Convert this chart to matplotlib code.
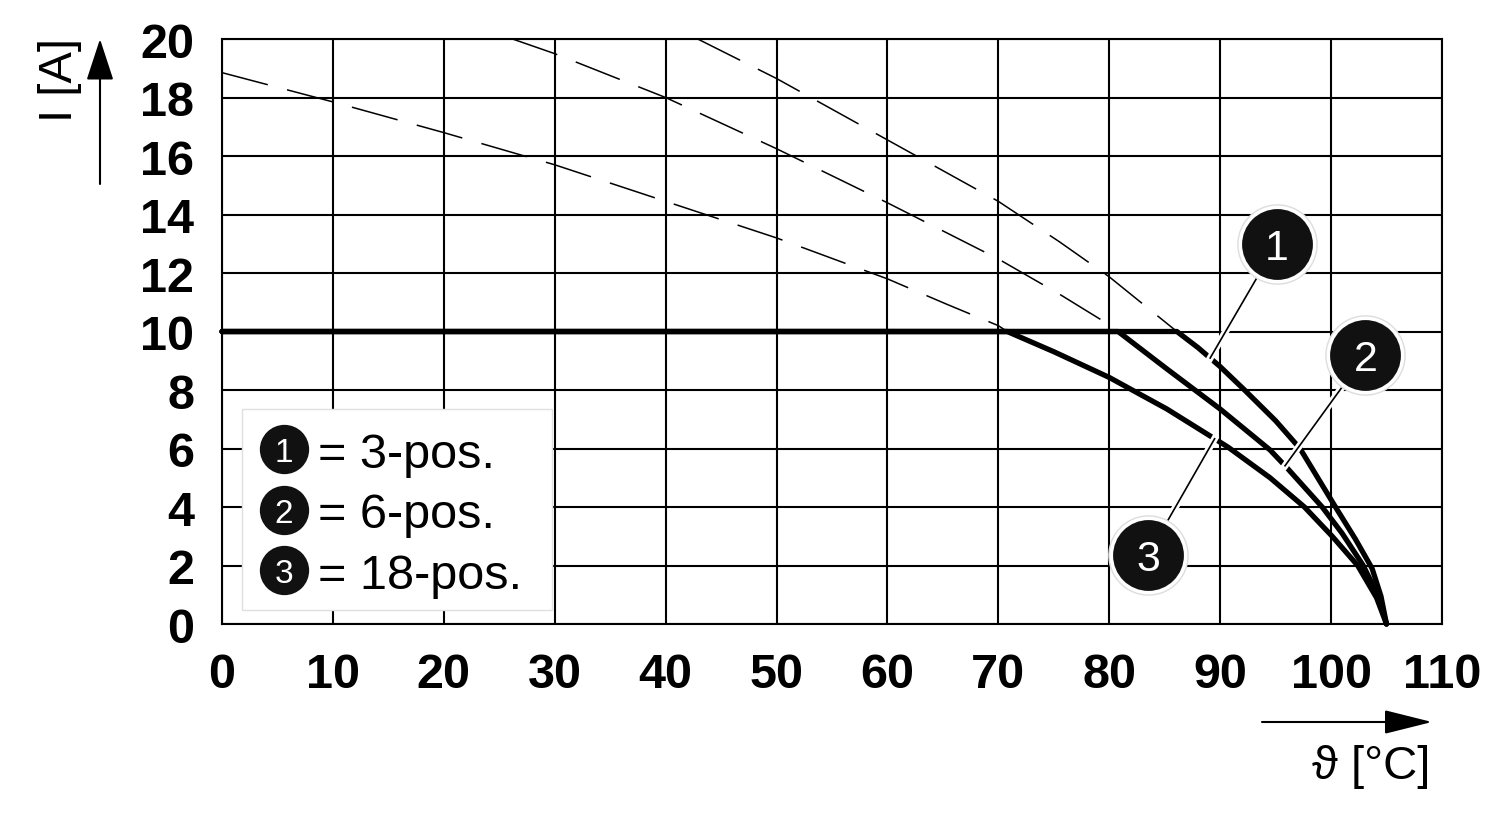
import matplotlib
matplotlib.use("Agg")
import matplotlib.pyplot as plt
import matplotlib.patheffects as pe
from matplotlib.patches import Rectangle
import numpy as np

plt.rcParams['font.family'] = ['Liberation Sans', 'DejaVu Sans']

# derating curves (temperature in degC, current in A)
temp_3pos = [42.9, 50, 60, 70, 75.5, 80, 86.1, 88, 90, 92.2, 95, 97.2, 100.4, 102.2, 103.7, 104.5, 105]
curr_3pos = [20.0, 18.65, 16.55, 14.45, 13.07, 11.87, 10.0, 9.45, 8.8, 8.0, 6.95, 6.0, 4.0, 2.9, 1.9, 0.95, 0.0]

temp_6pos = [26.2, 30, 40, 50, 60, 70, 75.5, 80, 80.8, 85.2, 90, 94.5, 96, 99.2, 101, 102.9, 104.2, 105]
curr_6pos = [20.0, 19.5, 18.0, 16.25, 14.4, 12.48, 11.28, 10.23, 10.0, 8.72, 7.35, 5.95, 5.35, 4.0, 3.1, 2.0, 1.0, 0.0]

temp_18pos = [0, 10, 20, 30, 40, 50, 60, 65.3, 70, 70.8, 75, 80, 85.2, 90.7, 94.5, 97.6, 100.1, 102.4, 104.1, 105]
curr_18pos = [18.85, 17.85, 16.8, 15.7, 14.45, 13.2, 11.8, 10.94, 10.2, 10.0, 9.31, 8.43, 7.35, 6.05, 5.0, 4.0, 3.0, 2.0, 0.9, 0.0]

current_limit = 10
curve_ids = ['1', '2', '3']
legend_text = ['= 3-pos.', '= 6-pos.', '= 18-pos.']
x_ticks = list(range(0, 111, 10))
y_ticks = list(range(0, 21, 2))

curves = [(temp_3pos, curr_3pos), (temp_6pos, curr_6pos), (temp_18pos, curr_18pos)]

fig = plt.figure(figsize=(15, 8.2), dpi=100)
ax = fig.add_axes([0.148, 0.2378, 0.8133, 0.7134])
ax.set_xlim(0, 110)
ax.set_ylim(0, 20)
ax.set_xticks(x_ticks)
ax.set_yticks(y_ticks)
ax.grid(True, color='black', lw=1.5)
ax.set_axisbelow(True)
for s in ax.spines.values():
    s.set_linewidth(1.5)
ax.tick_params(length=0, labelsize=35, pad=20)
for lab in ax.get_xticklabels() + ax.get_yticklabels():
    lab.set_fontweight('bold')

for t, c in curves:
    t = np.array(t, dtype=float)
    c = np.array(c, dtype=float)
    # where the curve drops below the current limit
    t_cross = np.interp(current_limit, c[::-1], t[::-1])
    above = c > current_limit
    below = c < current_limit
    # dashed part above the limit
    ax.plot(np.r_[t[above], t_cross], np.r_[c[above], current_limit],
            color='black', lw=1.1, dashes=(31, 13), zorder=3)
    # solid part: flat at the limit, then the derating curve
    ax.plot(np.r_[0, t_cross, t[below]], np.r_[current_limit, current_limit, c[below]],
            color='black', lw=3.8, solid_capstyle='round', solid_joinstyle='round',
            zorder=4, clip_on=False)

# numbered callouts: circle position and where the leader meets the curve
callout_pos = [(95.1, 13.0), (103.1, 9.2), (83.5, 2.36)]
leader_x = [89.1, 95.85, 89.5]
for i, (t, c) in enumerate(curves):
    cx, cy = callout_pos[i]
    tx = leader_x[i]
    ty = np.interp(tx, t, c)
    ax.plot([cx, tx], [cy, ty], color='black', lw=1.2, zorder=5,
            path_effects=[pe.withStroke(linewidth=5, foreground='white')])
    ax.plot(cx, cy, 'o', ms=57, mfc='white', mec='#dddddd', mew=1, zorder=6, clip_on=False)
    ax.plot(cx, cy, 'o', ms=51, mfc='#111111', mec='#111111', mew=0, zorder=7, clip_on=False)
    ax.text(cx, cy, curve_ids[i], color='white', fontsize=31, ha='center', va='center_baseline',
            zorder=8)

# legend box
ax.add_patch(Rectangle((0.0164, 0.024), 0.2541, 0.3435, transform=ax.transAxes,
                       facecolor='white', edgecolor='#e0e0e0', lw=1, zorder=5))
row_y = [0.299, 0.195, 0.092]
for i in range(3):
    ax.plot(0.0508, row_y[i], 'o', ms=35.5, mfc='#111111', mec='#111111', mew=0,
            transform=ax.transAxes, zorder=6)
    ax.text(0.0508, row_y[i], curve_ids[i], color='white', fontsize=24, ha='center',
            va='center_baseline', transform=ax.transAxes, zorder=7)
    ax.text(0.079, row_y[i], legend_text[i], color='black', fontsize=35, ha='left',
            va='center_baseline', transform=ax.transAxes, zorder=7)

# axis titles with arrows
fig.text(60 / 1500, 1 - 80 / 820, 'I [A]', rotation=90, fontsize=34, ha='center', va='center')
ax.annotate('', xy=(100, 780), xycoords='figure pixels', xytext=(100, 635),
            textcoords='figure pixels',
            arrowprops=dict(arrowstyle='-|>,head_length=2.6,head_width=0.85',
                            mutation_scale=10, lw=1.5, color='black', shrinkA=0, shrinkB=0))
ax.annotate('', xy=(1432, 97), xycoords='figure pixels', xytext=(1262, 97),
            textcoords='figure pixels',
            arrowprops=dict(arrowstyle='-|>,head_length=3.0,head_width=0.75',
                            mutation_scale=10, lw=1.5, color='black', shrinkA=0, shrinkB=0))
fig.text(1430 / 1500, 53 / 820, 'ϑ [°C]', fontsize=34, ha='right', va='center')

fig.savefig('out.png', dpi=100)
